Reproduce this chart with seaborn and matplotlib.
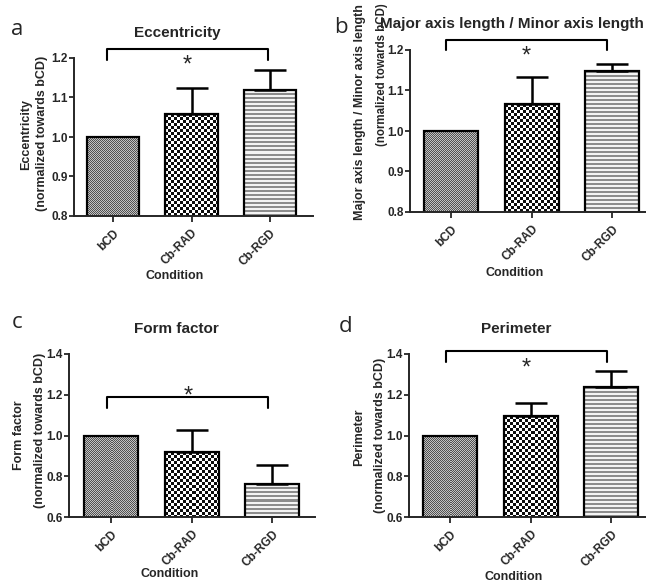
import numpy as np
import matplotlib
matplotlib.use("Agg")
import matplotlib.pyplot as plt
from matplotlib.textpath import TextPath
from matplotlib.font_manager import FontProperties
import seaborn as sns

# ---------------- data ----------------
categories = ["bCD", "Cb-RAD", "Cb-RGD"]

ecc_mean = [1.0, 1.058, 1.119]
ecc_err = [0.0, 0.066, 0.051]

axis_mean = [1.0, 1.066, 1.148]
axis_err = [0.0, 0.067, 0.017]

ff_mean = [1.0, 0.918, 0.762]
ff_err = [0.0, 0.107, 0.094]

per_mean = [1.0, 1.094, 1.238]
per_err = [0.0, 0.064, 0.080]

ticks_ab = [0.8, 0.9, 1.0, 1.1, 1.2]
ticks_cd = [0.6, 0.8, 1.0, 1.2, 1.4]
tick_fmt_ab = ["0.8", "0.9", "1.0", "1.1", "1.2"]
tick_fmt_cd = ["0.6", "0.8", "1.0", "1.2", "1.4"]

# ---------------- style ----------------
sns.set_style("ticks")
plt.rcParams["font.family"] = ["Liberation Sans", "DejaVu Sans"]

W_PX, H_PX, DPI = 646, 583, 100
fig = plt.figure(figsize=(W_PX / DPI, H_PX / DPI), dpi=DPI)

STAR_FS = 17
_sp = TextPath((0, 0), "*", size=STAR_FS,
               prop=FontProperties(family="Liberation Sans")).get_extents()
STAR_OFF = -(_sp.y0 + _sp.y1) / 2.0  # points, centers the ink on the target


def px_rect(left, right, top, bottom):
    return [left / W_PX, 1 - bottom / H_PX, (right - left) / W_PX, (bottom - top) / H_PX]


def ftext(x, y, s, **kw):
    fig.text(x / W_PX, 1 - y / H_PX, s, **kw)


def texture(ax, patch, kind):
    x0, y0 = patch.get_x(), patch.get_y()
    w, h = patch.get_width(), patch.get_height()
    ylo = max(y0, ax.get_ylim()[0])
    yhi = y0 + h
    p0 = ax.transData.transform((x0, ylo))
    p1 = ax.transData.transform((x0 + w, yhi))
    Wp = max(int(round(p1[0] - p0[0])), 1)
    Hp = max(int(round(p1[1] - p0[1])), 1)
    yy, xx = np.mgrid[0:Hp, 0:Wp]
    if kind == "fine":
        arr = np.where((xx + yy) % 2 == 0, 0.32, 0.76)
    elif kind == "checker":
        arr = np.where(((xx // 3) + (yy // 3)) % 2 == 0, 0.05, 1.0)
    else:
        arr = np.where((yy % 4) < 2, 0.55, 0.95)
    im = ax.imshow(arr, cmap="gray", vmin=0, vmax=1,
                   extent=(x0, x0 + w, ylo, yhi), origin="upper",
                   interpolation="nearest", aspect="auto",
                   zorder=patch.get_zorder() - 0.5)
    im.set_clip_path(patch)
    patch.set_facecolor("none")


def panel(rect_px, means, errs, ylim, yticks, ytlabels, xlim,
          xlabel_xy, bracket, star):
    ax = fig.add_axes(px_rect(*rect_px))
    sns.barplot(x=categories, y=means, ax=ax, width=0.67, color="white",
                edgecolor="black", linewidth=1.6, errorbar=None)
    ax.set_xlim(*xlim)
    ax.set_ylim(*ylim)
    for p, k in zip(ax.patches, ["fine", "checker", "stripes"]):
        texture(ax, p, k)
    ax.set_xlim(*xlim)
    ax.set_ylim(*ylim)

    xs = [p.get_x() + p.get_width() / 2 for p in ax.patches]
    for xc, m, e in zip(xs, means, errs):
        if e > 0:
            ax.errorbar([xc], [m], yerr=[[0], [e]], fmt="none", ecolor="black",
                        elinewidth=1.8, capsize=11.5, capthick=1.8, zorder=3)

    sns.despine(ax=ax)
    for s in ["left", "bottom"]:
        ax.spines[s].set_linewidth(1.4)
    ax.set_yticks(yticks)
    ax.set_yticklabels(ytlabels, fontsize=8.5, fontweight="bold")
    ax.set_xticks(range(len(categories)))
    ax.set_xticklabels(categories, fontsize=8.5, fontweight="bold",
                       rotation=45, ha="right", rotation_mode="anchor")
    ax.tick_params(axis="both", direction="out", length=3.5, width=1.3, pad=1)
    ax.tick_params(axis="x", length=4, pad=4)

    ax.set_xlabel("Condition", fontsize=9, fontweight="bold")
    ax.xaxis.set_label_coords(*xlabel_xy)
    ax.xaxis.label.set_va("top")

    bx0, bx1, bytop, byleg = bracket
    ax.plot([bx0, bx0, bx1, bx1], [byleg, bytop, bytop, byleg],
            color="black", lw=1.5, clip_on=False, zorder=4)
    ax.annotate("*", xy=star, xytext=(0, STAR_OFF), textcoords="offset points",
                ha="center", va="baseline", fontsize=STAR_FS,
                annotation_clip=False)
    ax.set_facecolor("none")
    return ax


# panel a
panel((74, 313, 58, 216), ecc_mean, ecc_err, (0.8, 1.2), ticks_ab, tick_fmt_ab,
      (-0.5, 2.55), (0.42, -0.34), (-0.08, 1.97, 1.223, 1.195), (0.95, 1.197))

# panel b
panel((410, 646, 50, 212), axis_mean, axis_err, (0.8, 1.2), ticks_ab, tick_fmt_ab,
      (-0.51, 2.42), (0.445, -0.34), (-0.06, 1.94, 1.225, 1.2), (0.93, 1.2))

# panel c
panel((69, 315, 354, 517), ff_mean, ff_err, (0.6, 1.4), ticks_cd, tick_fmt_cd,
      (-0.52, 2.53), (0.41, -0.31), (-0.05, 1.95, 1.187, 1.134), (0.96, 1.223))

# panel d
panel((409, 646, 354, 517), per_mean, per_err, (0.6, 1.4), ticks_cd, tick_fmt_cd,
      (-0.51, 2.43), (0.44, -0.33), (-0.05, 1.94, 1.415, 1.362), (0.94, 1.358))

# y-axis labels (two lines each)
ylab_kw = dict(rotation=90, ha="center", va="center", fontweight="bold")
ftext(26, 135, "Eccentricity", fontsize=9, **ylab_kw)
ftext(42, 133, "(normalized towards bCD)", fontsize=9, **ylab_kw)
ftext(360, 112, "Major axis length / Minor axis length", fontsize=9, **ylab_kw)
ftext(382, 75, "(normalized towards bCD)", fontsize=8.3, **ylab_kw)
ftext(19, 435, "Form factor", fontsize=9, **ylab_kw)
ftext(40.5, 430, "(normalized towards bCD)", fontsize=9, **ylab_kw)
ftext(359, 437, "Perimeter", fontsize=9, **ylab_kw)
ftext(380, 435, "(normalized towards bCD)", fontsize=9, **ylab_kw)

# titles
ftext(177, 33, "Eccentricity", ha="center", va="center", fontsize=11, fontweight="bold")
ftext(380, 24, "Major axis length / Minor axis length", ha="left", va="center",
      fontsize=11, fontweight="bold")
ftext(176, 329, "Form factor", ha="center", va="center", fontsize=11, fontweight="bold")
ftext(516, 329, "Perimeter", ha="center", va="center", fontsize=11, fontweight="bold")

# panel letters
letter_kw = dict(ha="left", va="baseline", fontsize=16, family=["Open Sans", "DejaVu Sans"])
ftext(11, 35, "a", **letter_kw)
ftext(334, 33, "b", **letter_kw)
ftext(12, 328, "c", **letter_kw)
ftext(339, 332, "d", **letter_kw)

fig.savefig("out.png", dpi=DPI)
